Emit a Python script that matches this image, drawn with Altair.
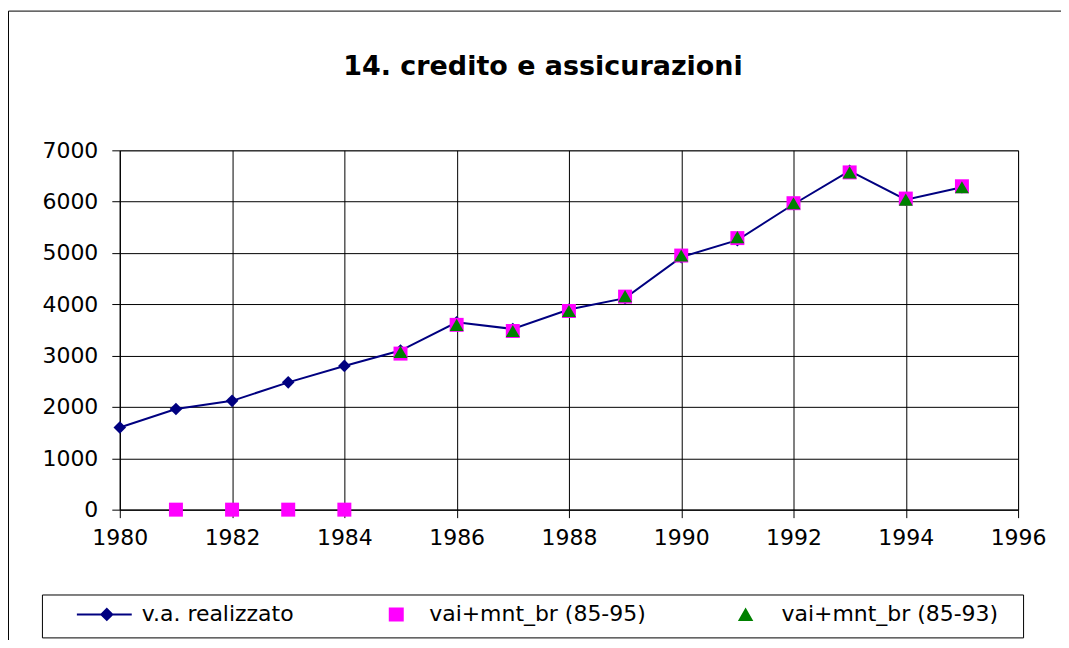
import altair as alt
import pandas as pd

# ---- data ----
years_real = list(range(1980, 1996))
realizzato = [1600, 1960, 2120, 2480, 2800, 3100, 3650, 3520, 3900, 4120,
              4920, 5250, 5950, 6600, 6040, 6280]
years_95 = list(range(1981, 1996))
vai_85_95 = [0, 0, 0, 0, 3040, 3600, 3480, 3870, 4150, 4950,
             5290, 5970, 6570, 6060, 6300]
years_93 = list(range(1985, 1996))
vai_85_93 = [3070, 3600, 3480, 3870, 4160, 4950, 5310, 5970, 6570, 6040, 6280]

series_names = ["v.a. realizzato", "vai+mnt_br (85-95)", "vai+mnt_br (85-93)"]
series_colors = ["#000080", "#FF00FF", "#008000"]
x_ticks = list(range(1980, 1997, 2))
y_ticks = list(range(0, 7001, 1000))

FONT = "DejaVu Sans"

df_real = pd.DataFrame({"year": years_real, "value": realizzato})
df_95 = pd.DataFrame({"year": years_95, "value": vai_85_95})
df_93 = pd.DataFrame({"year": years_93, "value": vai_85_93})
df_leg = pd.DataFrame({"series": series_names})
df_frame = pd.DataFrame({"k": [0]})

x_enc = alt.X(
    "year:Q",
    scale=alt.Scale(domain=[1980, 1996], nice=False, zero=False),
    axis=alt.Axis(values=x_ticks, format="d", title=None, tickSize=8,
                  labelPadding=10, labelFlush=False, labelOverlap=False),
)
y_enc = alt.Y(
    "value:Q",
    scale=alt.Scale(domain=[0, 7000], nice=False),
    axis=alt.Axis(values=y_ticks, format="d", title=None, tickSize=8,
                  labelPadding=14, labelOverlap=False),
)

frame = alt.Chart(df_frame).mark_rect(
    filled=False, stroke="#000000", strokeWidth=1
).encode(
    x=alt.value(-111.5), x2=alt.value(1100),
    y=alt.value(-139.5), y2=alt.value(700),
)

line = alt.Chart(df_real).mark_line(color="#000080", strokeWidth=2).encode(
    x=x_enc, y=y_enc
)
diamonds = alt.Chart(df_real).mark_point(
    shape="diamond", filled=True, size=160, color="#000080", opacity=1
).encode(x="year:Q", y="value:Q")
squares = alt.Chart(df_95).mark_point(
    shape="square", filled=True, size=196, color="#FF00FF", opacity=1
).encode(x="year:Q", y="value:Q")
triangles = alt.Chart(df_93).mark_point(
    shape="triangle-up", filled=True, size=196, color="#008000", opacity=1
).encode(x="year:Q", y="value:Q")

legend_shapes = [
    "M-1,-1M-1,1M1.5,0L7,0M4.5,-0.55L5.05,0L4.5,0.55L3.95,0Z",
    "M-1,-1M-1,1M4.05,-0.6L5.35,-0.6L5.35,0.6L4.05,0.6Z",
    "M-1,-1M-1,1M4.4,-0.5L5.0,0.55L3.8,0.55Z",
]

legend_def = alt.Legend(
    title=None, orient="none", legendX=-78, legendY=445,
    direction="horizontal", columns=3, columnPadding=41,
    labelOffset=69, padding=9, strokeColor="#000000", fillColor="#ffffff",
    labelFont=FONT, labelFontSize=22, labelColor="#000000", labelLimit=400,
    labelExpr="datum.label == 'vai+mnt_br (85-93)' ? datum.label + '\u2002\u2009\u200b' : datum.label",
    symbolStrokeWidth=2, symbolSize=400, symbolOpacity=1,
)

legend_layer = alt.Chart(df_leg).mark_point(
    filled=True, size=400, strokeWidth=2, opacity=1
).encode(
    fill=alt.Fill("series:N", scale=alt.Scale(domain=series_names, range=series_colors),
                  legend=legend_def),
    stroke=alt.Stroke("series:N", scale=alt.Scale(domain=series_names, range=series_colors),
                      legend=legend_def),
    shape=alt.Shape("series:N", scale=alt.Scale(domain=series_names, range=legend_shapes),
                    legend=legend_def),
).transform_filter("false")

chart = alt.layer(frame, line, diamonds, squares, triangles, legend_layer).properties(
    width=900, height=360,
    background="#ffffff",
    title=alt.TitleParams("14. credito e assicurazioni", font=FONT, fontSize=27,
                          fontWeight="bold", color="#000000", dx=-26, offset=-71),
    autosize=alt.AutoSizeParams(type="none"),
    padding={"left": 112, "top": 142, "right": 43, "bottom": 130},
).configure_view(
    stroke="#808080", strokeWidth=1
).configure_axis(
    labelFont=FONT, labelFontSize=22, labelColor="#000000",
    domainColor="#000000", domainWidth=1, tickColor="#000000", tickWidth=1,
    gridColor="#000000", gridWidth=1, gridOpacity=1, grid=True,
)

chart.save("out.html", embed_options={"renderer": "svg", "actions": False})
